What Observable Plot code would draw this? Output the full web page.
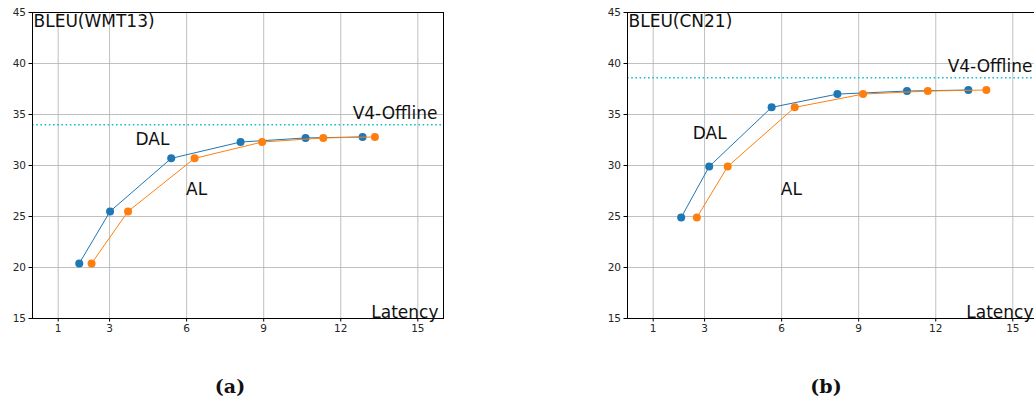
<!DOCTYPE html>
<html>
<head>
<meta charset="utf-8">
<script src="https://cdn.jsdelivr.net/npm/d3@7"></script>
<script src="https://cdn.jsdelivr.net/npm/@observablehq/plot@0.6"></script>
<style>
  html, body { margin: 0; padding: 0; background: #fff; }
  body { width: 1034px; height: 399px; overflow: hidden; position: relative; font-family: "DejaVu Sans", sans-serif; }
  .panel { position: absolute; top: 0; width: 450px; height: 340px; }
  .panel svg { max-width: none !important; }
  .cap { position: absolute; top: 375px; width: 100px; text-align: center; font-family: "DejaVu Serif", serif; font-weight: bold; font-size: 19px; color: #111; }
</style>
</head>
<body>
<div id="a" class="panel" style="left:0px"></div>
<div id="b" class="panel" style="left:595px"></div>
<div class="cap" style="left:180px">(a)</div>
<div class="cap" style="left:776px">(b)</div>
<script>
// ---- data ----
const xTicks = [1, 3, 6, 9, 12, 15];
const yTicks = [15, 20, 25, 30, 35, 40, 45];

// Panel (a): WMT13
const titleA = "BLEU(WMT13)";
const bleuA = [20.4, 25.5, 30.7, 32.3, 32.7, 32.8];
const dalA = [1.82, 3.02, 5.4, 8.1, 10.63, 12.85];
const alA = [2.3, 3.72, 6.31, 8.94, 11.32, 13.33];
const offlineA = 34.0;

// Panel (b): CN21
const titleB = "BLEU(CN21)";
const bleuB = [24.9, 29.9, 35.7, 37.0, 37.3, 37.4];
const dalB = [2.09, 3.18, 5.61, 8.17, 10.88, 13.27];
const alB = [2.7, 3.9, 6.51, 9.17, 11.69, 13.97];
const offlineB = 38.6;

const seriesNames = ["DAL", "AL"];
const offlineLabel = "V4-Offline";
const xLabel = "Latency";

const BLUE = "#1f77b4", ORANGE = "#ff7f0e", CYAN = "#17becf";

function panel(title, bleu, dal, al, offline, dalPos, alPos) {
  const dalRows = dal.map((x, i) => ({x, y: bleu[i]}));
  const alRows = al.map((x, i) => ({x, y: bleu[i]}));
  return Plot.plot({
    width: 450, height: 340,
    marginLeft: 32, marginRight: 7, marginTop: 12, marginBottom: 22,
    style: {fontFamily: "DejaVu Sans, sans-serif", fontSize: "10.5px", color: "#262626", background: "transparent", maxWidth: "none"},
    x: {domain: [0, 16], label: null},
    y: {domain: [15, 45], label: null},
    marks: [
      Plot.gridX(xTicks, {stroke: "#b0b0b0", strokeOpacity: 1, strokeWidth: 0.8}),
      Plot.gridY(yTicks, {stroke: "#b0b0b0", strokeOpacity: 1, strokeWidth: 0.8}),
      Plot.ruleY([offline], {stroke: CYAN, strokeWidth: 1.6, strokeDasharray: "1.6,2.6"}),
      Plot.line(dalRows, {x: "x", y: "y", stroke: BLUE, strokeWidth: 1}),
      Plot.dot(dalRows, {x: "x", y: "y", fill: BLUE, r: 4}),
      Plot.line(alRows, {x: "x", y: "y", stroke: ORANGE, strokeWidth: 1}),
      Plot.dot(alRows, {x: "x", y: "y", fill: ORANGE, r: 4}),
      Plot.axisX(xTicks, {tickSize: 3.5, tickPadding: 3, fontSize: 10.5, label: null, stroke: "#000"}),
      Plot.axisY(yTicks, {tickSize: 3.5, tickPadding: 3, fontSize: 10.5, label: null, stroke: "#000"}),
      Plot.frame({stroke: "#000", strokeWidth: 1}),
      Plot.text([title], {frameAnchor: "top-left", dx: 1, dy: 2, text: d => d, fontSize: 17, fill: "#111", textAnchor: "start", lineAnchor: "top"}),
      Plot.text([xLabel], {frameAnchor: "bottom-right", dx: -5, dy: -1, text: d => d, fontSize: 17, fill: "#111", lineAnchor: "bottom"}),
      Plot.text([offline], {y: d => d, frameAnchor: "right", dx: -6, dy: -11, text: () => offlineLabel, fontSize: 17, fill: "#111", textAnchor: "end"}),
      Plot.text([dalPos], {x: d => d[0], y: d => d[1], text: () => seriesNames[0], fontSize: 17, fill: "#111"}),
      Plot.text([alPos], {x: d => d[0], y: d => d[1], text: () => seriesNames[1], fontSize: 17, fill: "#111"})
    ]
  });
}

document.getElementById("a").appendChild(panel(titleA, bleuA, dalA, alA, offlineA, [4.67, 32.5], [6.39, 27.6]));
document.getElementById("b").appendChild(panel(titleB, bleuB, dalB, alB, offlineB, [3.2, 33.1], [6.38, 27.6]));
</script>
</body>
</html>
